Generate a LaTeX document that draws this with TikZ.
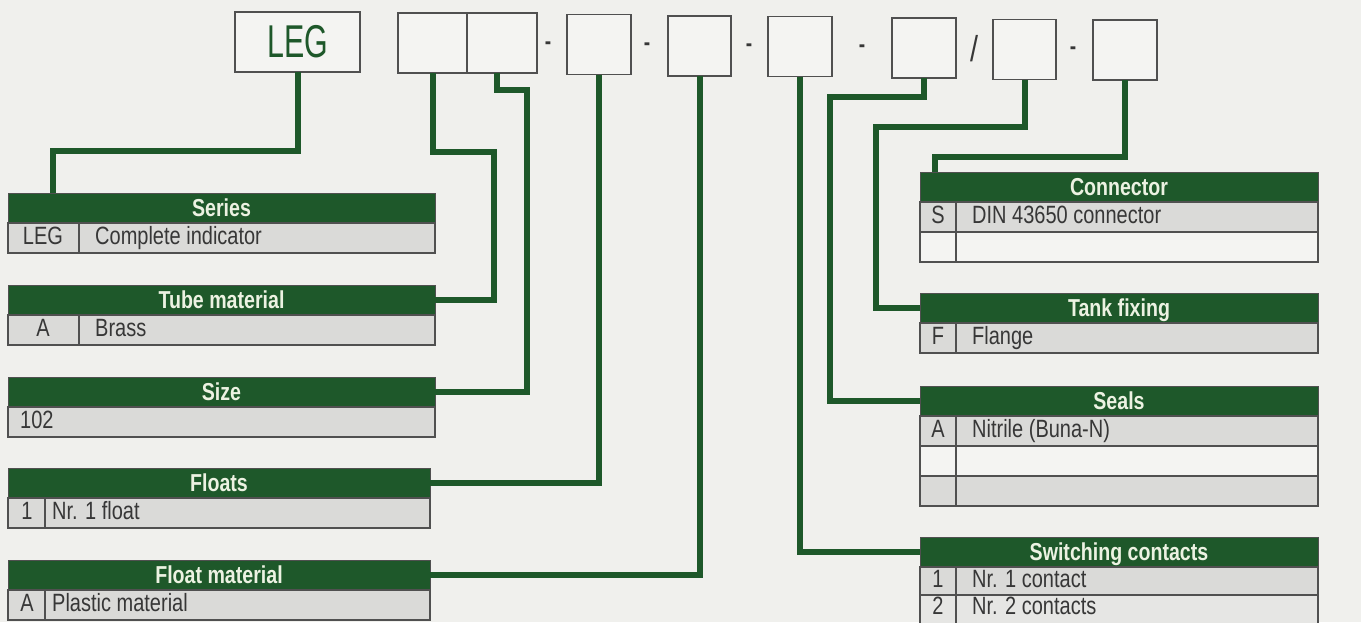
\documentclass[tikz,border=0pt]{standalone}
\usepackage{fontspec}
\setmainfont{Liberation Sans}[FakeStretch=0.8]
\newfontfamily\codefont{Liberation Sans}[FakeStretch=0.66]
\usetikzlibrary{positioning}

\definecolor{leggreen}{RGB}{30,88,42}
\definecolor{paper}{RGB}{240,240,237}
\definecolor{rowgray}{RGB}{218,218,216}
\definecolor{rowlight}{RGB}{230,230,228}
\definecolor{rowwhite}{RGB}{244,244,242}
\definecolor{frame}{RGB}{80,80,80}
\definecolor{headtext}{RGB}{236,242,226}
\definecolor{ink}{RGB}{55,55,55}

\tikzset{
  codebox/.style={draw=frame, line width=1.5pt, fill=rowwhite, inner sep=0pt, outer sep=0pt, minimum height=60},
  head/.style={fill=leggreen, draw=frame, line width=1pt, text=headtext, font=\fontsize{24.5}{24.5}\selectfont\bfseries,
    text height=17.5pt, text depth=0pt, minimum height=30, inner sep=0pt, outer sep=0pt},
  row/.style={fill=rowgray, draw=frame, line width=1.2pt, minimum height=30, inner sep=0pt, outer sep=0pt},
  entry/.style={text=ink, font=\fontsize{25}{25}\selectfont, text height=17.9pt, text depth=0pt, inner sep=0pt, yshift=2pt},
  dashsign/.style={text=ink, font=\fontsize{24}{24}\selectfont\bfseries, inner sep=0pt},
  divider/.style={draw=frame, line width=1.2pt},
  link/.style={draw=leggreen, line width=6pt},
}

\begin{document}
\begin{tikzpicture}[x=1pt, y=-1pt]
  % Page
  \clip (0,0) rectangle (1361,622);
  \fill[paper] (0,0) rectangle (1361,622);

  % Code boxes
  \node[codebox, minimum width=125, text=leggreen, font=\codefont\fontsize{46}{46}\selectfont] (leg) at (297.5,42) {LEG};
  \foreach \n/\x/\y/\w in {b1/432.5/43/69, b2/502/43/70, b3/599/44.5/64, b4/699.5/46/63,
                           b5/800/46.5/64, b6/924/48/64, b7/1024.5/49.5/63, b8/1125/50/64}
    \node[codebox, minimum width=\w] (\n) at (\x,\y) {};

  % Separators
  \node[dashsign] (s1) at (548,46) {-};
  \node[dashsign] (s2) at (647,47) {-};
  \node[dashsign] (s3) at (749,48) {-};
  \node[dashsign] (s4) at (862,49) {-};
  \node[text=ink, font=\fontsize{36}{36}\selectfont, inner sep=0pt] (s5) at (974,49) {/};
  \node[dashsign] (s6) at (1073,51) {-};

  % Series
  \node[head, minimum width=427] (series) at (221.5,208) {Series};
  \node[row, minimum width=427, below=0pt of series] (series1) {};
  \draw[divider] ([xshift=71pt]series1.north west) -- ([xshift=71pt]series1.south west);
  \node[entry] (series1k) at ([xshift=35pt]series1.west) {LEG};
  \node[entry, anchor=west] (series1v) at ([xshift=87pt]series1.west) {Complete indicator};

  % Tube material
  \node[head, minimum width=427] (tube) at (221.5,300) {Tube material};
  \node[row, minimum width=427, below=0pt of tube] (tube1) {};
  \draw[divider] ([xshift=71pt]tube1.north west) -- ([xshift=71pt]tube1.south west);
  \node[entry] (tube1k) at ([xshift=35pt]tube1.west) {A};
  \node[entry, anchor=west] (tube1v) at ([xshift=87pt]tube1.west) {Brass};

  % Size
  \node[head, minimum width=427] (size) at (221.5,392) {Size};
  \node[row, minimum width=427, below=0pt of size] (size1) {};
  \node[entry, anchor=west] (size1v) at ([xshift=12pt]size1.west) {102};

  % Floats
  \node[head, minimum width=422] (floats) at (219,483) {Floats};
  \node[row, minimum width=422, below=0pt of floats] (floats1) {};
  \draw[divider] ([xshift=37pt]floats1.north west) -- ([xshift=37pt]floats1.south west);
  \node[entry] (floats1k) at ([xshift=19pt]floats1.west) {1};
  \node[entry, anchor=west] (floats1v) at ([xshift=44pt]floats1.west) {Nr. 1 float};

  % Float material
  \node[head, minimum width=422] (fmat) at (219,575) {Float material};
  \node[row, minimum width=422, below=0pt of fmat] (fmat1) {};
  \draw[divider] ([xshift=37pt]fmat1.north west) -- ([xshift=37pt]fmat1.south west);
  \node[entry] (fmat1k) at ([xshift=19pt]fmat1.west) {A};
  \node[entry, anchor=west] (fmat1v) at ([xshift=44pt]fmat1.west) {Plastic material};

  % Connector
  \node[head, minimum width=398] (conn) at (1119,187) {Connector};
  \node[row, minimum width=398, below=0pt of conn] (conn1) {};
  \node[row, minimum width=398, fill=rowwhite, below=0pt of conn1] (conn2) {};
  \draw[divider] ([xshift=36pt]conn1.north west) -- ([xshift=36pt]conn2.south west);
  \node[entry] (conn1k) at ([xshift=18pt]conn1.west) {S};
  \node[entry, anchor=west] (conn1v) at ([xshift=52pt]conn1.west) {DIN 43650 connector};

  % Tank fixing
  \node[head, minimum width=398] (tank) at (1119,308) {Tank fixing};
  \node[row, minimum width=398, below=0pt of tank] (tank1) {};
  \draw[divider] ([xshift=36pt]tank1.north west) -- ([xshift=36pt]tank1.south west);
  \node[entry] (tank1k) at ([xshift=18pt]tank1.west) {F};
  \node[entry, anchor=west] (tank1v) at ([xshift=52pt]tank1.west) {Flange};

  % Seals
  \node[head, minimum width=398] (seals) at (1119,401) {Seals};
  \node[row, minimum width=398, below=0pt of seals] (seals1) {};
  \node[row, minimum width=398, fill=rowwhite, below=0pt of seals1] (seals2) {};
  \node[row, minimum width=398, below=0pt of seals2] (seals3) {};
  \draw[divider] ([xshift=36pt]seals1.north west) -- ([xshift=36pt]seals3.south west);
  \node[entry] (seals1k) at ([xshift=18pt]seals1.west) {A};
  \node[entry, anchor=west] (seals1v) at ([xshift=52pt]seals1.west) {Nitrile (Buna-N)};

  % Switching contacts
  \node[head, minimum width=398] (switch) at (1119,552) {Switching contacts};
  \node[row, minimum width=398, minimum height=28, below=0pt of switch] (switch1) {};
  \node[row, minimum width=398, fill=rowlight, below=0pt of switch1] (switch2) {};
  \draw[divider] ([xshift=36pt]switch1.north west) -- ([xshift=36pt]switch2.south west);
  \node[entry] (switch1k) at ([xshift=18pt]switch1.west) {1};
  \node[entry, anchor=west] (switch1v) at ([xshift=52pt]switch1.west) {Nr. 1 contact};
  \node[entry] (switch2k) at ([xshift=18pt,yshift=2pt]switch2.west) {2};
  \node[entry, anchor=west] (switch2v) at ([xshift=52pt,yshift=2pt]switch2.west) {Nr. 2 contacts};

  % Links from code boxes to tables
  \draw[link] (leg.south) |- ++(-245,79) coordinate (legbend) -- (legbend |- series.north);
  \draw[link] (b1.south) |- ++(61,79) |- (tube.east);
  \draw[link] ([xshift=-5pt]b2.south) |- ++(30,17) |- (size.east);
  \draw[link] (b3.south) |- (floats.east);
  \draw[link] (b4.south) |- (fmat.east);
  \draw[link] (b5.south) |- (switch.west);
  \draw[link] (b6.south) |- ++(-94,19) |- (seals.west);
  \draw[link] (b7.south) |- ++(-149,47) |- (tank.west);
  \draw[link] (b8.south) |- ++(-190,77) coordinate (connbend) -- (connbend |- conn.north);
\end{tikzpicture}
\end{document}
